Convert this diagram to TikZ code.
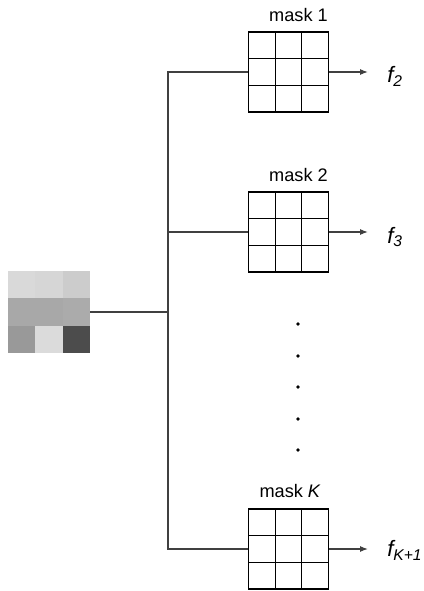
\documentclass[tikz,border=0pt]{standalone}
\usepackage{fontspec}
\setmainfont{Liberation Sans}
\usetikzlibrary{positioning,arrows.meta}

\begin{document}
\begin{tikzpicture}[x=0.03cm,y=-0.03cm,
        wire/.style={line width=1pt,black!75},
        maskgrid/.style={draw,line width=0.9pt,minimum size=2.4cm,inner sep=0pt,
            path picture={
                \foreach \d in {0.8cm,1.6cm}
                    {
                        \draw[line width=0.9pt] ([xshift=\d]path picture bounding box.north west) -- ([xshift=\d]path picture bounding box.south west);
                        \draw[line width=0.9pt] ([yshift=-\d]path picture bounding box.north west) -- ([yshift=-\d]path picture bounding box.north east);
                    }
            }},
        masklabel/.style={font=\fontsize{15.5}{18}\selectfont,inner sep=0pt},
        feat/.style={font=\itshape\fontsize{19}{21}\selectfont,inner sep=0pt}]
    \useasboundingbox (0,0) rectangle (424,591);

    % image patch
    \foreach \col/\row/\shade in {0/0/15,1/0/16,2/0/20,0/1/34,1/1/34,2/1/33,0/2/40,1/2/14,2/2/70}
        {
            \fill[black!\shade] (8+\col*27.33,271+\row*27.33) rectangle ++(27.33,27.33);
        }
    \node[minimum size=2.46cm,inner sep=0pt] (patch) at (49,312) {};

    % masks
    \node[maskgrid] (mask1) at (288.5,72) {};
    \node[maskgrid] (mask2) at (288.5,232) {};
    \node[maskgrid] (maskK) at (288.5,549) {};

    \node[masklabel,above=0.3cm of mask1,xshift=0.3cm] (lab1) {mask 1};
    \node[masklabel,above=0.3cm of mask2,xshift=0.3cm] (lab2) {mask 2};
    \node[masklabel,above=0.33cm of maskK,xshift=0.05cm] (labK) {mask \textit{K}};

    % bus
    \coordinate (bus) at (168,312);
    \draw[wire] (patch.east) -- (bus);
    \draw[wire] (mask1.west) -| (bus) |- (maskK.west);
    \draw[wire] (bus |- mask2.west) -- (mask2.west);

    % outputs
    \node[feat,right=1.74cm of mask1,anchor=west,yshift=-0.12cm] (f2) {f\textsubscript{2}};
    \node[feat,right=1.74cm of mask2,anchor=west,yshift=-0.15cm] (f3) {f\textsubscript{3}};
    \node[feat,right=1.74cm of maskK,anchor=west,yshift=-0.05cm] (fK) {f\textsubscript{K+1}};

    \draw[wire,-{Latex[length=2.4mm,width=1.8mm]}] (mask1.east) -- ([xshift=-0.57cm]f2.west |- mask1.east);
    \draw[wire,-{Latex[length=2.4mm,width=1.8mm]}] (mask2.east) -- ([xshift=-0.57cm]f3.west |- mask2.east);
    \draw[wire,-{Latex[length=2.4mm,width=1.8mm]}] (maskK.east) -- ([xshift=-0.57cm]fK.west |- maskK.east);

    \foreach \y in {324,356,387,419,450}
        {
            \fill (298,\y) circle (1.8);
        }
\end{tikzpicture}
\end{document}
